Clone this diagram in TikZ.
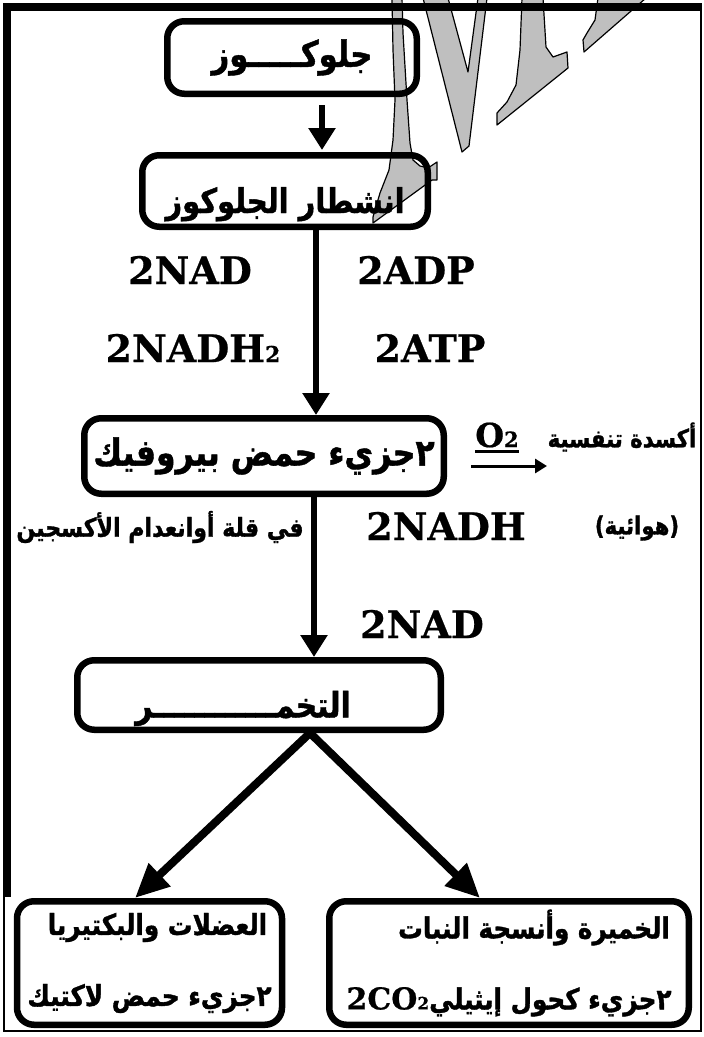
\documentclass[tikz,border=0pt]{standalone}
\usepackage{fontspec}
\setmainfont{DejaVu Serif}[BoldFeatures={FakeBold=0.6}]
\newfontfamily\arabicfont[Script=Arabic, FakeStretch=0.85, BoldFeatures={FakeBold=1.2}]{DejaVu Sans}
\TeXXeTstate=1
\usetikzlibrary{arrows.meta,calc}
\newcommand{\artext}[1]{{\arabicfont\bfseries\beginR #1\endR}}
\newcommand{\smalltwo}[1]{{\fontsize{#1}{#1}\selectfont 2}}

\begin{document}
\begin{tikzpicture}[x=1pt, y=-1pt,
  box/.style={draw, line width=6.5pt, rounded corners=17pt, inner sep=0pt, align=center},
  chem/.style={inner sep=0pt, font=\fontsize{38}{38}\selectfont\bfseries},
  artag/.style={inner sep=0pt},
  flow/.style={line width=6.5pt, -{Triangle[length=22pt,width=26pt]}},
  branch/.style={line width=8pt, -{Triangle[length=34pt,width=30pt]}},
  ghost/.style={fill=black!25, draw=black, line width=1.2pt, line join=round}]
\useasboundingbox (0,0) rectangle (704,1037);

\filldraw[ghost] (392,-2) -- (393,50) -- (395,100) -- (393,140) -- (389,170) -- (380,193) -- (373,217) -- (373,223) -- (432,180) -- (437,180) -- (437,162) -- (428,168) -- (420,166) -- (413,160) -- (410,143) -- (407,100) -- (403,33) -- (402,-2) -- cycle;
\filldraw[ghost] (423,-2) -- (462,152) -- (469,146) -- (487,-2) -- (478,-2) -- (468,72) -- (448,-2) -- cycle;
\filldraw[ghost] (522,-2) -- (520,50) -- (516,85) -- (507,102) -- (497,113) -- (497,125) -- (568,68) -- (567,52) -- (553,57) -- (546,47) -- (543,-2) -- cycle;
\filldraw[ghost] (598,-2) -- (595,20) -- (587,33) -- (583,40) -- (584,52) -- (646,-2) -- cycle;

\node[box, minimum width=249.5pt, minimum height=72.5pt, font=\fontsize{36}{40}\selectfont] (glu) at (292,57.5) {\artext{جلوكـــــوز}};
\node[box, minimum width=285.5pt, minimum height=71.5pt, font=\fontsize{34}{40}\selectfont, text height=46pt, text depth=2pt] (split) at (285,191) {\artext{انشطار الجلوكوز}};
\node[box, minimum width=359.5pt, minimum height=75.5pt, font=\fontsize{37}{40}\selectfont] (pyr) at (264,456) {\artext{٢جزيء حمض بيروفيك}};
\node[box, minimum width=363.5pt, minimum height=69.5pt, font=\fontsize{35}{40}\selectfont, text height=47pt, text depth=2pt] (ferm) at (259,695) {\artext{التخمــــــــــــر}\hspace*{32pt}};
\node[box, minimum width=265pt, minimum height=123.5pt, font=\fontsize{29}{71}\selectfont] (musc) at (149.5,963) {\hspace*{16pt}\artext{العضلات والبكتيريا}\\\artext{٢جزيء حمض لاكتيك}};
\node[box, minimum width=359.5pt, minimum height=123.5pt, font=\fontsize{29}{71}\selectfont] (yeast) at (509,963) {\hspace*{50pt}\artext{الخميرة وأنسجة النبات}\\\artext{٢جزيء كحول إيثيلي\beginL{\normalfont\bfseries\fontsize{30}{30}\selectfont 2CO\smalltwo{17}}\endL}};

\node[chem] (nadA) at (190,270) {2NAD};
\node[chem] (adp) at (416,270) {2ADP};
\node[chem] (nadhA) at (193,348) {2NADH\smalltwo{22}};
\node[chem] (atp) at (430,348) {2ATP};
\node[chem] (nadhB) at (446,526) {2NADH};
\node[chem] (nadB) at (422,624) {2NAD};
\node[inner sep=0pt, anchor=base, font=\fontsize{33}{33}\selectfont\bfseries] (o2) at (497,447) {O\smalltwo{21}};
\node[artag, font=\fontsize{25}{25}\selectfont] (oxid) at (622,437) {\artext{أكسدة تنفسية}};
\node[artag, font=\fontsize{26}{26}\selectfont] (lack) at (160,527) {\artext{في قلة أوانعدام الأكسجين}};
\node[artag, font=\fontsize{25}{25}\selectfont] (aer) at (637,528) {\artext{(هوائية)}};

\coordinate (s1) at (322,0);
\coordinate (s2) at (316,0);
\coordinate (s3) at (314,0);
\coordinate (fork) at (310,0);
\coordinate (lt) at (135,0);
\coordinate (rt) at (480,0);
\coordinate (oxa) at (471,466);
\coordinate (oxb) at (547,466);

\draw[flow, shorten <=8pt, shorten >=2pt] (glu.south -| s1) -- (split.north -| s1);
\draw[flow] (split.south -| s2) -- (pyr.north -| s2);
\draw[flow] (pyr.south -| s3) -- (ferm.north -| s3);
\foreach \b/\c in {musc/lt, yeast/rt} { \draw[branch] (ferm.south -| fork) -- (\b.north -| \c); }
\draw[line width=3pt] ([yshift=-4pt]o2.south west) -- ([yshift=-4pt]o2.south east);
\draw[line width=3pt, -{Triangle[length=12pt,width=14pt]}] (oxa) -- (oxb);

\draw[line width=8pt] (3,7) -- (702,7);
\draw[line width=8pt] (7,3) -- (7,897);
\draw[line width=2pt] (4,897) -- (4,1031) -- (701,1031) -- (701,7);
\end{tikzpicture}
\end{document}
